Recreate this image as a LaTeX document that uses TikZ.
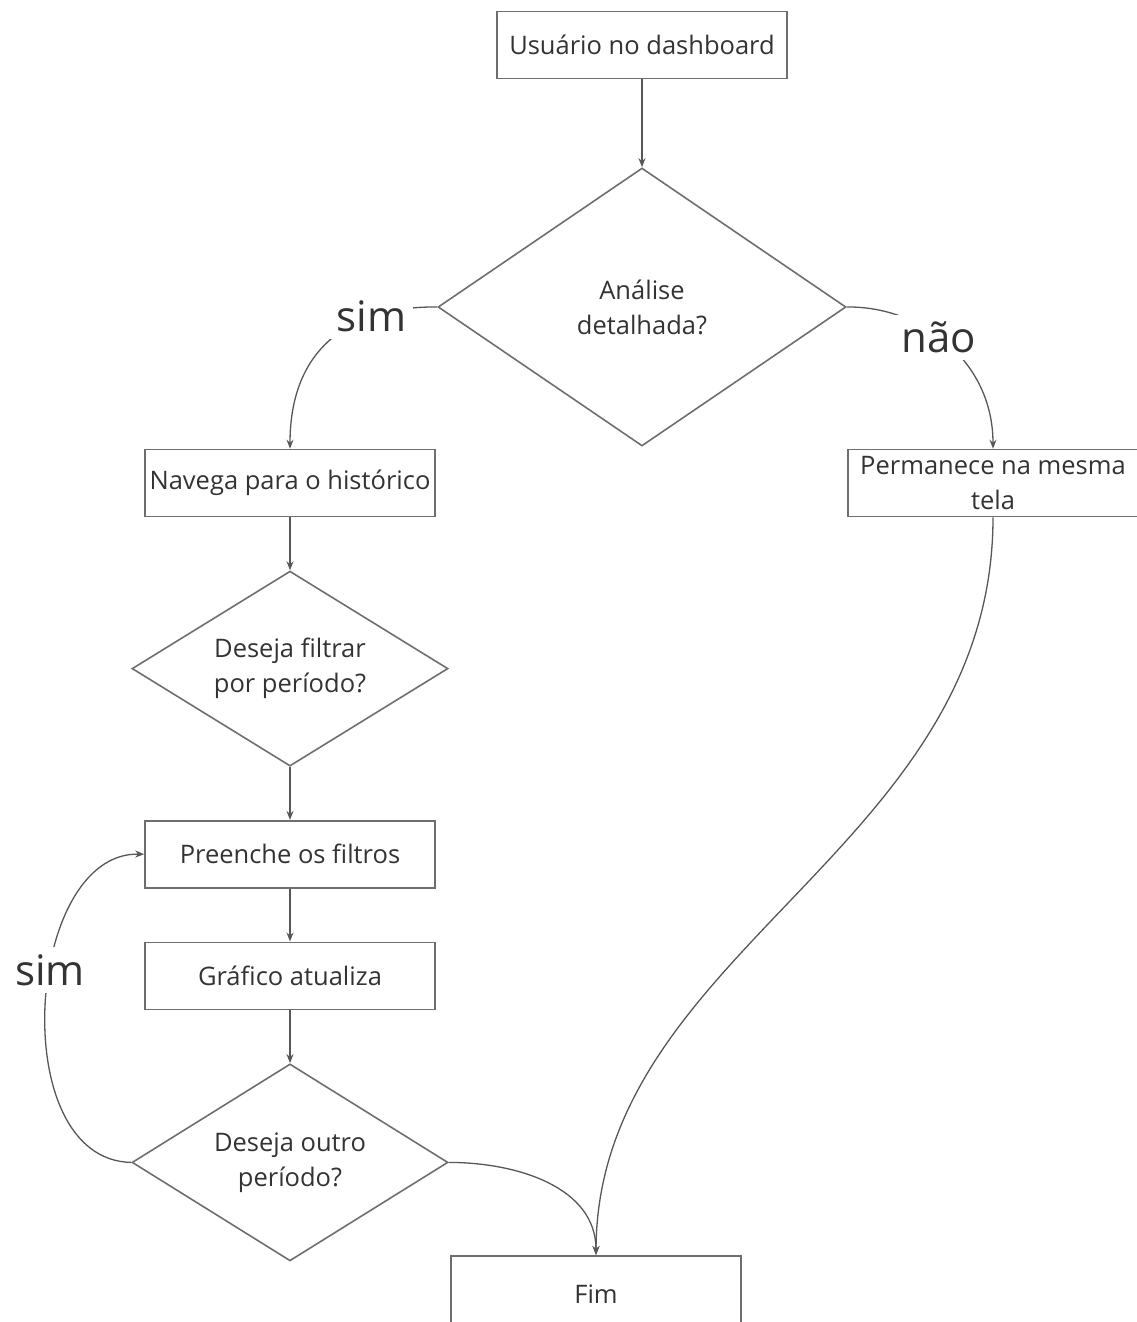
\documentclass[tikz,border=0pt]{standalone}
\usepackage{fontspec}
\setmainfont{Open Sans}
\usetikzlibrary{shapes.geometric,positioning,arrows.meta}

\definecolor{borda}{HTML}{6E6E6E}
\definecolor{linha}{HTML}{575757}
\definecolor{texto}{HTML}{333333}

\tikzset{
  caixa/.style={draw=borda, line width=1.6pt, minimum width=290pt, minimum height=67pt,
    inner sep=2pt, text=texto, align=center, font=\fontsize{25.5}{35}\selectfont},
  decisao/.style={diamond, shape aspect=1.6, draw=borda, line width=1.6pt, inner sep=0pt, text=texto,
    align=center, font=\fontsize{25.5}{35}\selectfont},
  rotulo/.style={fill=white, text=texto, inner sep=7pt, font=\fontsize{42}{42}\selectfont},
}

\begin{document}
\begin{tikzpicture}[x=1pt, y=-1pt, node distance=53pt, line width=1.3pt, draw=linha,
    >={Stealth[length=9pt,width=7pt]}]
  \useasboundingbox (0,0) rectangle (1137,1322);
  \node[caixa] (inicio) at (642,45) {Usuário no dashboard};
  \node[decisao, minimum width=408pt, minimum height=278pt] (analise) at (642,307) {Análise\\detalhada?};
  \node[caixa] (navega) at (290,483) {Navega para o histórico};
  \node[caixa] (permanece) at (993,483) {Permanece na mesma\\tela};
  \node[decisao, minimum width=316pt, minimum height=195pt] (filtrar) [below=of navega] {Deseja filtrar\\por período?};
  \node[caixa] (preenche) [below=of filtrar] {Preenche os filtros};
  \node[caixa] (grafico) [below=of preenche] {Gráfico atualiza};
  \node[decisao, minimum width=316pt, minimum height=197pt] (outro) [below=of grafico] {Deseja outro\\período?};
  \node[caixa, minimum height=76pt, anchor=north] (fim) at (596,1255) {Fim};

  \draw[->] (inicio) -- (analise);
  \draw[->] (analise.west) .. controls (360,306) and (290,340) .. node[rotulo, pos=0.3] {sim} (navega.north);
  \draw[->] (analise.east) .. controls (920,306) and (993,360) .. node[rotulo, pos=0.45] {não} (permanece.north);
  \draw[->] (navega) -- (filtrar);
  \draw[->] (filtrar) -- (preenche);
  \draw[->] (preenche) -- (grafico);
  \draw[->] (grafico) -- (outro);
  \draw[->] (outro.west) .. controls (5,1160) and (25,852) .. node[rotulo, pos=0.58] {sim} (preenche.west);
  \draw[->] (outro.east) to[out=0,in=90] (fim.north);
  \draw[->] (permanece.south) .. controls (993,850) and (597,950) .. (fim.north);
\end{tikzpicture}
\end{document}
